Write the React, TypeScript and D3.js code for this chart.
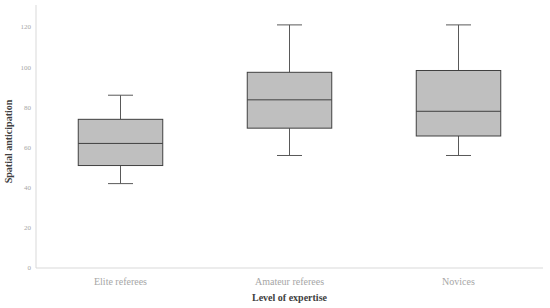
import React from 'react';
import * as d3 from 'd3';

// values
const groups = ['Elite referees', 'Amateur referees', 'Novices'];
const whiskerLow = [42, 56, 56];
const q1 = [51, 69.6, 65.7];
const median = [62, 83.7, 78];
const q3 = [74, 97.4, 98.3];
const whiskerHigh = [86, 121, 121];
const yTicks = [0, 20, 40, 60, 80, 100, 120];

const App = () => {
  const width = 550;
  const height = 308;
  const marginLeft = 36;
  const marginRight = 7;
  const marginBottom = 40;
  const plotTop = 5;
  const fontFamily = '"Liberation Serif", "DejaVu Serif", serif';

  const x = d3.scaleBand()
    .domain(groups)
    .range([marginLeft, width - marginRight]);

  const y = d3.scaleLinear()
    .domain([0, 120])
    .range([height - marginBottom, 26.9]);

  const boxWidth = x.bandwidth() * 0.5;
  const capWidth = 25;

  return (
    <svg width={width} height={height} style={{ position: 'absolute', left: 0, top: 0, background: '#fff' }}>
      {/* axes */}
      <line x1={marginLeft} x2={marginLeft} y1={plotTop} y2={y(0)} stroke="#d9d9d9" />
      <line x1={marginLeft} x2={width - marginRight} y1={y(0)} y2={y(0)} stroke="#d9d9d9" />

      {yTicks.map(t => (
        <text key={t} x={marginLeft - 5} y={y(t)} dy="0.35em" textAnchor="end"
          fontFamily={fontFamily} fontSize={7} fill="#a6a6a6">{t}</text>
      ))}

      {groups.map((g, i) => {
        const cx = x(g)! + x.bandwidth() / 2;
        return (
          <g key={g}>
            <line x1={cx} x2={cx} y1={y(whiskerHigh[i])} y2={y(q3[i])} stroke="#595959" />
            <line x1={cx} x2={cx} y1={y(q1[i])} y2={y(whiskerLow[i])} stroke="#595959" />
            <line x1={cx - capWidth / 2} x2={cx + capWidth / 2} y1={y(whiskerHigh[i])} y2={y(whiskerHigh[i])} stroke="#595959" />
            <line x1={cx - capWidth / 2} x2={cx + capWidth / 2} y1={y(whiskerLow[i])} y2={y(whiskerLow[i])} stroke="#595959" />
            <rect x={cx - boxWidth / 2} y={y(q3[i])} width={boxWidth} height={y(q1[i]) - y(q3[i])}
              fill="#bfbfbf" stroke="#404040" />
            <line x1={cx - boxWidth / 2} x2={cx + boxWidth / 2} y1={y(median[i])} y2={y(median[i])} stroke="#404040" />
            <text x={cx} y={285} textAnchor="middle" fontFamily={fontFamily} fontSize={10} fill="#a6a6a6">{g}</text>
          </g>
        );
      })}

      <text x={(marginLeft + width - marginRight) / 2} y={301} textAnchor="middle"
        fontFamily={fontFamily} fontSize={10} fontWeight="bold" fill="#404040">Level of expertise</text>
      <text transform={`translate(12,${(plotTop + y(0)) / 2 + 5}) rotate(-90)`} textAnchor="middle"
        fontFamily={fontFamily} fontSize={10} fontWeight="bold" fill="#404040">Spatial anticipation</text>
    </svg>
  );
};

export default App;
